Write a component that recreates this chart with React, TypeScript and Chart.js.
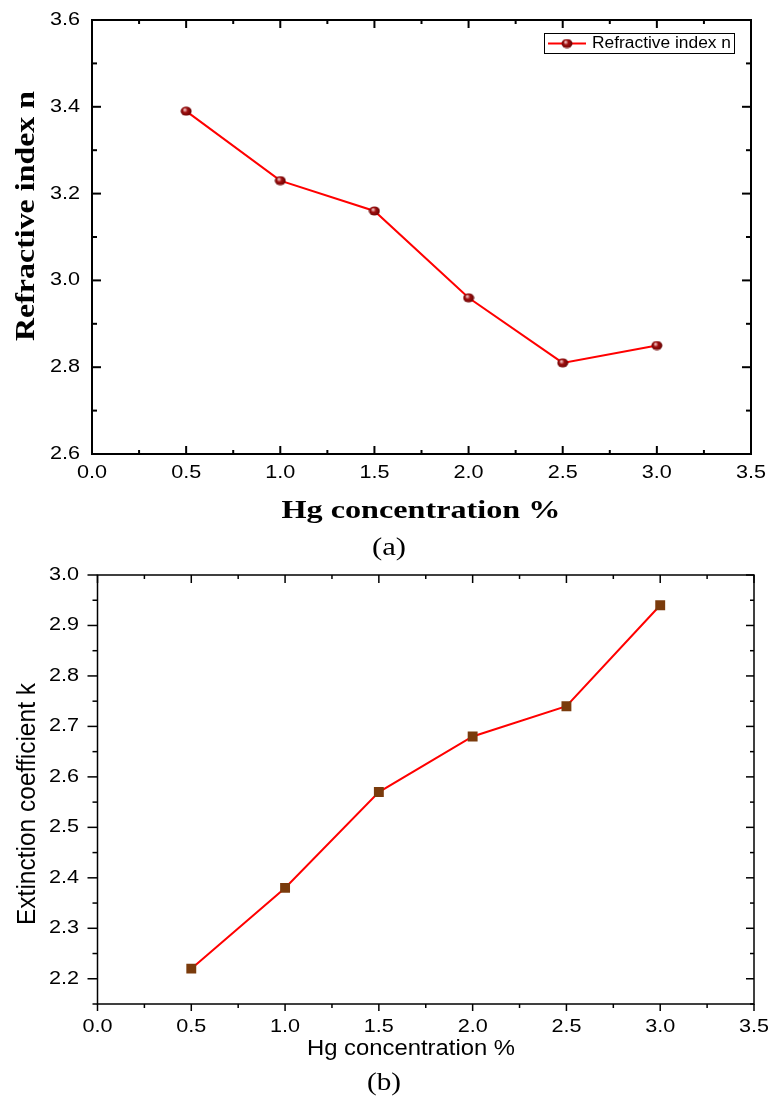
import React, { useEffect, useRef } from "react";
import { Chart, registerables } from "chart.js";

Chart.register(...registerables);

// ---------- data ----------
const HG_CONCENTRATION = [0.5, 1.0, 1.5, 2.0, 2.5, 3.0];
const REFRACTIVE_INDEX_N = [3.39, 3.23, 3.16, 2.96, 2.81, 2.85];
const EXTINCTION_COEFF_K = [2.22, 2.38, 2.57, 2.68, 2.74, 2.94];
const X_TICKS = [0, 0.5, 1.0, 1.5, 2.0, 2.5, 3.0, 3.5];
const Y_TICKS_N = [2.6, 2.8, 3.0, 3.2, 3.4, 3.6];
const Y_TICKS_K = [2.2, 2.3, 2.4, 2.5, 2.6, 2.7, 2.8, 2.9, 3.0];
const Y_RANGE_N = [2.6, 3.6];
const Y_RANGE_K = [2.15, 3.0];
const X_RANGE = [0, 3.5];
const LABEL_N = "Refractive index n";
const LABEL_K = "Extinction coefficient k";
const X_TITLE = "Hg concentration %";
const PANEL_A = "(a)";
const PANEL_B = "(b)";

const W = 768;

function makeSphere(): HTMLCanvasElement {
  const c = document.createElement("canvas");
  c.width = 12;
  c.height = 10;
  const g = c.getContext("2d")!;
  const grad = g.createRadialGradient(4.5, 3.5, 0.5, 6, 5, 6);
  grad.addColorStop(0, "#f3c4c4");
  grad.addColorStop(0.35, "#a01010");
  grad.addColorStop(1, "#5c0000");
  g.fillStyle = grad;
  g.beginPath();
  g.ellipse(6, 5, 5.5, 4.5, 0, 0, Math.PI * 2);
  g.fill();
  return c;
}

function fitText(
  ctx: CanvasRenderingContext2D,
  text: string,
  font: string,
  cx: number,
  cy: number,
  targetW: number | null,
  rotate: boolean,
  align: CanvasTextAlign = "center"
) {
  ctx.save();
  ctx.font = font;
  ctx.fillStyle = "#000";
  const w = ctx.measureText(text).width;
  ctx.translate(cx, cy);
  if (rotate) ctx.rotate(-Math.PI / 2);
  if (targetW) ctx.scale(targetW / w, 1);
  ctx.textAlign = align;
  ctx.textBaseline = "middle";
  ctx.fillText(text, 0, 0);
  ctx.restore();
}

type Side = "in" | "out";
interface PanelCfg {
  top: number;
  height: number;
  area: { left: number; right: number; top: number; bottom: number };
  yRange: number[];
  yTicks: number[];
  yData: number[];
  label: string;
  frameW: number;
  sides: { left: Side; bottom: Side; top: Side; right: Side };
  major: { left: number; bottom: number; top: number; right: number };
  minor: { left: number; bottom: number; top: number; right: number };
  yLabelRight: number;
  xLabelY: number;
  drawTexts: (ctx: CanvasRenderingContext2D) => void;
  point: any;
  pointRadius: number;
  pointColor: string;
}

function minors(ticks: number[], min: number): number[] {
  const out: number[] = [];
  const step = ticks[1] - ticks[0];
  const first = ticks[0] - step / 2;
  if (first >= min - 1e-9) out.push(first);
  for (let i = 0; i < ticks.length - 1; i++) out.push((ticks[i] + ticks[i + 1]) / 2);
  return out;
}

function decorPlugin(cfg: PanelCfg) {
  return {
    id: "decor",
    afterDraw(chart: any) {
      const ctx: CanvasRenderingContext2D = chart.ctx;
      const { left, right, top, bottom } = chart.chartArea;
      const xs = chart.scales.x;
      const ys = chart.scales.y;
      ctx.save();
      ctx.strokeStyle = "#000";
      ctx.lineWidth = cfg.frameW;
      ctx.strokeRect(left, top, right - left, bottom - top);
      const line = (x1: number, y1: number, x2: number, y2: number) => {
        ctx.beginPath();
        ctx.moveTo(x1, y1);
        ctx.lineTo(x2, y2);
        ctx.stroke();
      };
      const s = cfg.sides;
      const xMajor = X_TICKS;
      const xMinor = minors(X_TICKS, X_RANGE[0]);
      const yMajor = cfg.yTicks;
      const yMinor = minors(cfg.yTicks, cfg.yRange[0]);
      const drawX = (vals: number[], kind: "major" | "minor") => {
        for (const v of vals) {
          const px = xs.getPixelForValue(v);
          const lb = cfg[kind].bottom;
          const lt = cfg[kind].top;
          line(px, bottom, px, s.bottom === "in" ? bottom - lb : bottom + lb);
          line(px, top, px, s.top === "in" ? top + lt : top - lt);
        }
      };
      const drawY = (vals: number[], kind: "major" | "minor") => {
        for (const v of vals) {
          const py = ys.getPixelForValue(v);
          const ll = cfg[kind].left;
          const lr = cfg[kind].right;
          line(left, py, s.left === "in" ? left + ll : left - ll, py);
          line(right, py, s.right === "in" ? right - lr : right + lr, py);
        }
      };
      drawX(xMajor, "major");
      drawX(xMinor, "minor");
      drawY(yMajor, "major");
      drawY(yMinor, "minor");

      // tick labels
      ctx.fillStyle = "#000";
      ctx.font = "18px 'Liberation Sans', Arial, sans-serif";
      ctx.textBaseline = "middle";
      for (const v of xMajor) {
        const px = xs.getPixelForValue(v);
        ctx.save();
        ctx.translate(px, cfg.xLabelY);
        ctx.scale(1.2, 1);
        ctx.textAlign = "center";
        ctx.fillText(v.toFixed(1), 0, 0);
        ctx.restore();
      }
      for (const v of yMajor) {
        const py = ys.getPixelForValue(v);
        ctx.save();
        ctx.translate(cfg.yLabelRight, py);
        ctx.scale(1.2, 1);
        ctx.textAlign = "right";
        ctx.fillText(v.toFixed(1), 0, 0);
        ctx.restore();
      }
      ctx.restore();
      cfg.drawTexts(ctx);
    },
  };
}

function Panel({ cfg }: { cfg: PanelCfg }) {
  const ref = useRef<HTMLCanvasElement | null>(null);
  useEffect(() => {
    const canvas = ref.current!;
    const a = cfg.area;
    const chart = new Chart(canvas, {
      type: "line",
      data: {
        datasets: [
          {
            label: cfg.label,
            data: HG_CONCENTRATION.map((x, i) => ({ x, y: cfg.yData[i] })),
            borderColor: "#ff0000",
            borderWidth: 2,
            pointStyle: cfg.point,
            pointRadius: cfg.pointRadius,
            pointBackgroundColor: cfg.pointColor,
            pointBorderColor: cfg.pointColor,
            pointBorderWidth: 0,
            fill: false,
            tension: 0,
          },
        ],
      },
      options: {
        animation: false,
        responsive: false,
        maintainAspectRatio: false,
        events: [],
        layout: { padding: { left: 0, top: a.top, right: W - a.right, bottom: 0 } },
        plugins: { legend: { display: false }, tooltip: { enabled: false } },
        scales: {
          x: {
            type: "linear",
            min: X_RANGE[0],
            max: X_RANGE[1],
            grid: { display: false },
            border: { display: false },
            ticks: { display: false },
            afterBuildTicks: (s: any) => {
              s.ticks = X_TICKS.map((v) => ({ value: v }));
            },
            afterFit: (s: any) => {
              s.height = cfg.height - a.bottom;
            },
          },
          y: {
            type: "linear",
            min: cfg.yRange[0],
            max: cfg.yRange[1],
            grid: { display: false },
            border: { display: false },
            ticks: { display: false },
            afterBuildTicks: (s: any) => {
              s.ticks = cfg.yTicks.map((v) => ({ value: v }));
            },
            afterFit: (s: any) => {
              s.width = a.left;
            },
          },
        },
      } as any,
      plugins: [decorPlugin(cfg)],
    });
    return () => chart.destroy();
  }, [cfg]);
  return (
    <canvas
      ref={ref}
      width={W}
      height={cfg.height}
      style={{ position: "absolute", left: 0, top: cfg.top, width: W, height: cfg.height }}
    />
  );
}

const sphere = makeSphere();

const cfgA: PanelCfg = {
  top: 0,
  height: 565,
  area: { left: 92, right: 751, top: 20, bottom: 454 },
  yRange: Y_RANGE_N,
  yTicks: Y_TICKS_N,
  yData: REFRACTIVE_INDEX_N,
  label: LABEL_N,
  frameW: 2,
  sides: { left: "in", bottom: "in", top: "in", right: "in" },
  major: { left: 9, bottom: 8, top: 8, right: 9 },
  minor: { left: 5, bottom: 4, top: 4, right: 5 },
  yLabelRight: 80,
  xLabelY: 473,
  point: sphere,
  pointRadius: 5,
  pointColor: "#8b0000",
  drawTexts: (ctx) => {
    fitText(ctx, LABEL_N, "bold 28px 'Liberation Serif', 'Times New Roman', serif", 27, 216, 250, true);
    fitText(ctx, X_TITLE, "bold 26px 'Liberation Serif', 'Times New Roman', serif", 421, 511, 279, false);
    fitText(ctx, PANEL_A, "25px 'Liberation Serif', 'Times New Roman', serif", 389, 548, 34, false);
    // legend
    ctx.save();
    ctx.strokeStyle = "#000";
    ctx.lineWidth = 1;
    ctx.strokeRect(544.5, 33.5, 190, 20);
    ctx.strokeStyle = "#ff0000";
    ctx.lineWidth = 2;
    ctx.beginPath();
    ctx.moveTo(548, 43.5);
    ctx.lineTo(586, 43.5);
    ctx.stroke();
    ctx.drawImage(sphere, 567 - 6, 43.5 - 5);
    ctx.restore();
    fitText(ctx, LABEL_N, "16px 'Liberation Sans', Arial, sans-serif", 592, 44, 139, false, "left");
  },
};

const B_TOP = 545;
const cfgB: PanelCfg = {
  top: B_TOP,
  height: 1104 - B_TOP,
  area: { left: 97.5, right: 754, top: 575 - B_TOP, bottom: 1004 - B_TOP },
  yRange: Y_RANGE_K,
  yTicks: Y_TICKS_K,
  yData: EXTINCTION_COEFF_K,
  label: LABEL_K,
  frameW: 1.5,
  sides: { left: "out", bottom: "out", top: "in", right: "in" },
  major: { left: 10, bottom: 7, top: 8, right: 8 },
  minor: { left: 5, bottom: 4, top: 4, right: 4 },
  yLabelRight: 79,
  xLabelY: 1027 - B_TOP,
  point: "rect",
  pointRadius: 7,
  pointColor: "#7a3b0c",
  drawTexts: (ctx) => {
    fitText(ctx, LABEL_K, "25px 'Liberation Sans', Arial, sans-serif", 28, 804 - B_TOP, 242, true);
    fitText(ctx, X_TITLE, "22px 'Liberation Sans', Arial, sans-serif", 411, 1049 - B_TOP, 208, false);
    fitText(ctx, PANEL_B, "25px 'Liberation Serif', 'Times New Roman', serif", 384, 1083 - B_TOP, 34, false);
  },
};

export default function App() {
  return (
    <div style={{ position: "absolute", left: 0, top: 0, width: W, height: 1104, background: "#fff" }}>
      <Panel cfg={cfgA} />
      <Panel cfg={cfgB} />
    </div>
  );
}
